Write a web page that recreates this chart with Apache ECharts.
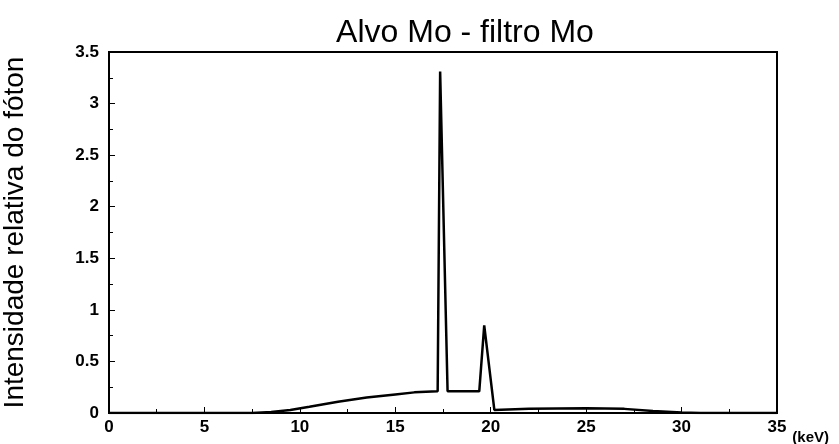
<!DOCTYPE html>
<html>
<head>
<meta charset="utf-8">
<script src="https://cdn.jsdelivr.net/npm/echarts@6/dist/echarts.min.js"></script>
<style>
  html, body { margin: 0; padding: 0; background: #fff; }
  #main { width: 839px; height: 444px; }
</style>
</head>
<body>
<div id="main"></div>
<script>
  // spectrum (keV, relative intensity)
  var energy = [0, 7.5, 8.5, 9.5, 10.5, 12, 13.5, 15, 16, 17.22, 17.35, 17.74, 19.4, 19.66, 20.19, 22, 25, 27, 28.5, 30, 31, 35];
  var intensity = [0, 0, 0.01, 0.03, 0.06, 0.11, 0.15, 0.18, 0.2, 0.21, 3.31, 0.21, 0.21, 0.85, 0.03, 0.04, 0.045, 0.04, 0.02, 0.005, 0, 0];

  var chart = echarts.init(document.getElementById('main'));

  var points = energy.map(function (e, i) {
    return [e, intensity[i]];
  });

  var tickFont = {
    color: '#000',
    fontFamily: 'Liberation Sans, Arial, sans-serif',
    fontWeight: 'bold',
    fontSize: 17
  };

  var option = {
    backgroundColor: '#fff',
    animation: false,
    title: {
      text: 'Alvo Mo - filtro Mo',
      left: 460,
      top: 12,
      textAlign: 'center',
      textStyle: {
        color: '#000',
        fontFamily: 'Liberation Sans, Arial, sans-serif',
        fontWeight: 'normal',
        fontSize: 32
      }
    },
    grid: {
      left: 109,
      right: 62,
      top: 52,
      bottom: 31,
      show: true,
      borderColor: '#000',
      borderWidth: 2,
      outerBoundsMode: 'none',
      containLabel: false
    },
    xAxis: {
      type: 'value',
      min: 0,
      max: 35,
      interval: 5,
      name: '(keV)',
      nameLocation: 'end',
      nameGap: 9,
      nameTextStyle: {
        color: '#000',
        fontFamily: 'Liberation Sans, Arial, sans-serif',
        fontWeight: 'bold',
        fontSize: 15,
        verticalAlign: 'top',
        padding: [17, 0, 0, 0]
      },
      axisLine: { lineStyle: { color: '#000', width: 2 } },
      axisTick: { inside: true, length: 6, lineStyle: { color: '#000' } },
      minorTick: { show: true, splitNumber: 2, length: 4, lineStyle: { color: '#000' } },
      splitLine: { show: false },
      axisLabel: Object.assign({ margin: 6 }, tickFont)
    },
    yAxis: {
      type: 'value',
      min: 0,
      max: 3.5,
      interval: 0.5,
      name: 'Intensidade relativa do fóton',
      nameLocation: 'middle',
      nameGap: 80,
      nameTextStyle: {
        color: '#000',
        fontFamily: 'Liberation Sans, Arial, sans-serif',
        fontSize: 28
      },
      axisLine: { show: true, lineStyle: { color: '#000', width: 2 } },
      axisTick: { show: true, inside: true, length: 6, lineStyle: { color: '#000' } },
      minorTick: { show: true, splitNumber: 2, length: 4, lineStyle: { color: '#000' } },
      splitLine: { show: false },
      axisLabel: Object.assign({ margin: 10 }, tickFont)
    },
    series: [
      {
        type: 'line',
        data: points,
        showSymbol: false,
        lineStyle: { color: '#000', width: 2.5 },
        itemStyle: { color: '#000' }
      }
    ]
  };

  chart.setOption(option);
</script>
</body>
</html>
